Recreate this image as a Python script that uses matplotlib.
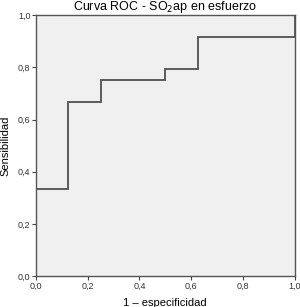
import matplotlib
matplotlib.use("Agg")
import matplotlib.pyplot as plt

# ROC curve points (1 - specificity, sensitivity)
fpr = [0.0, 0.0, 0.125, 0.125, 0.25, 0.25, 0.5, 0.5, 0.625, 0.625, 1.0, 1.0]
tpr = [0.0, 0.333, 0.333, 0.667, 0.667, 0.75, 0.75, 0.792, 0.792, 0.917, 0.917, 1.0]
ticks = [0.0, 0.2, 0.4, 0.6, 0.8, 1.0]
tick_labels = ["0,0", "0,2", "0,4", "0,6", "0,8", "1,0"]

plt.rcParams['font.family'] = ['Liberation Sans', 'DejaVu Sans']

fig = plt.figure(figsize=(3.0, 3.07), dpi=100)
ax = fig.add_axes([0.12, 0.10, 0.862, 0.851])
ax.set_facecolor("#f0f0f0")

ax.plot(fpr, tpr, color="#505050", lw=1.3, solid_joinstyle="miter")

ax.set_xlim(0, 1)
ax.set_ylim(0, 1)
ax.set_xticks(ticks)
ax.set_xticklabels(tick_labels, fontsize=6.5, color="#333333")
ax.set_yticks(ticks)
ax.set_yticklabels(tick_labels, fontsize=6.5, color="#333333")
ax.tick_params(length=3, width=0.8, color="#444444", pad=1)

for s in ax.spines.values():
    s.set_color("#555555")
    s.set_linewidth(1.0)

ax.set_xlabel("1 – especificidad", fontsize=8, labelpad=5)
ax.set_ylabel("Sensibilidad", fontsize=8, labelpad=5)
ax.set_title("Curva ROC - SO$_2$ap en esfuerzo", fontsize=9, pad=2)

fig.savefig("out.png", dpi=100)
